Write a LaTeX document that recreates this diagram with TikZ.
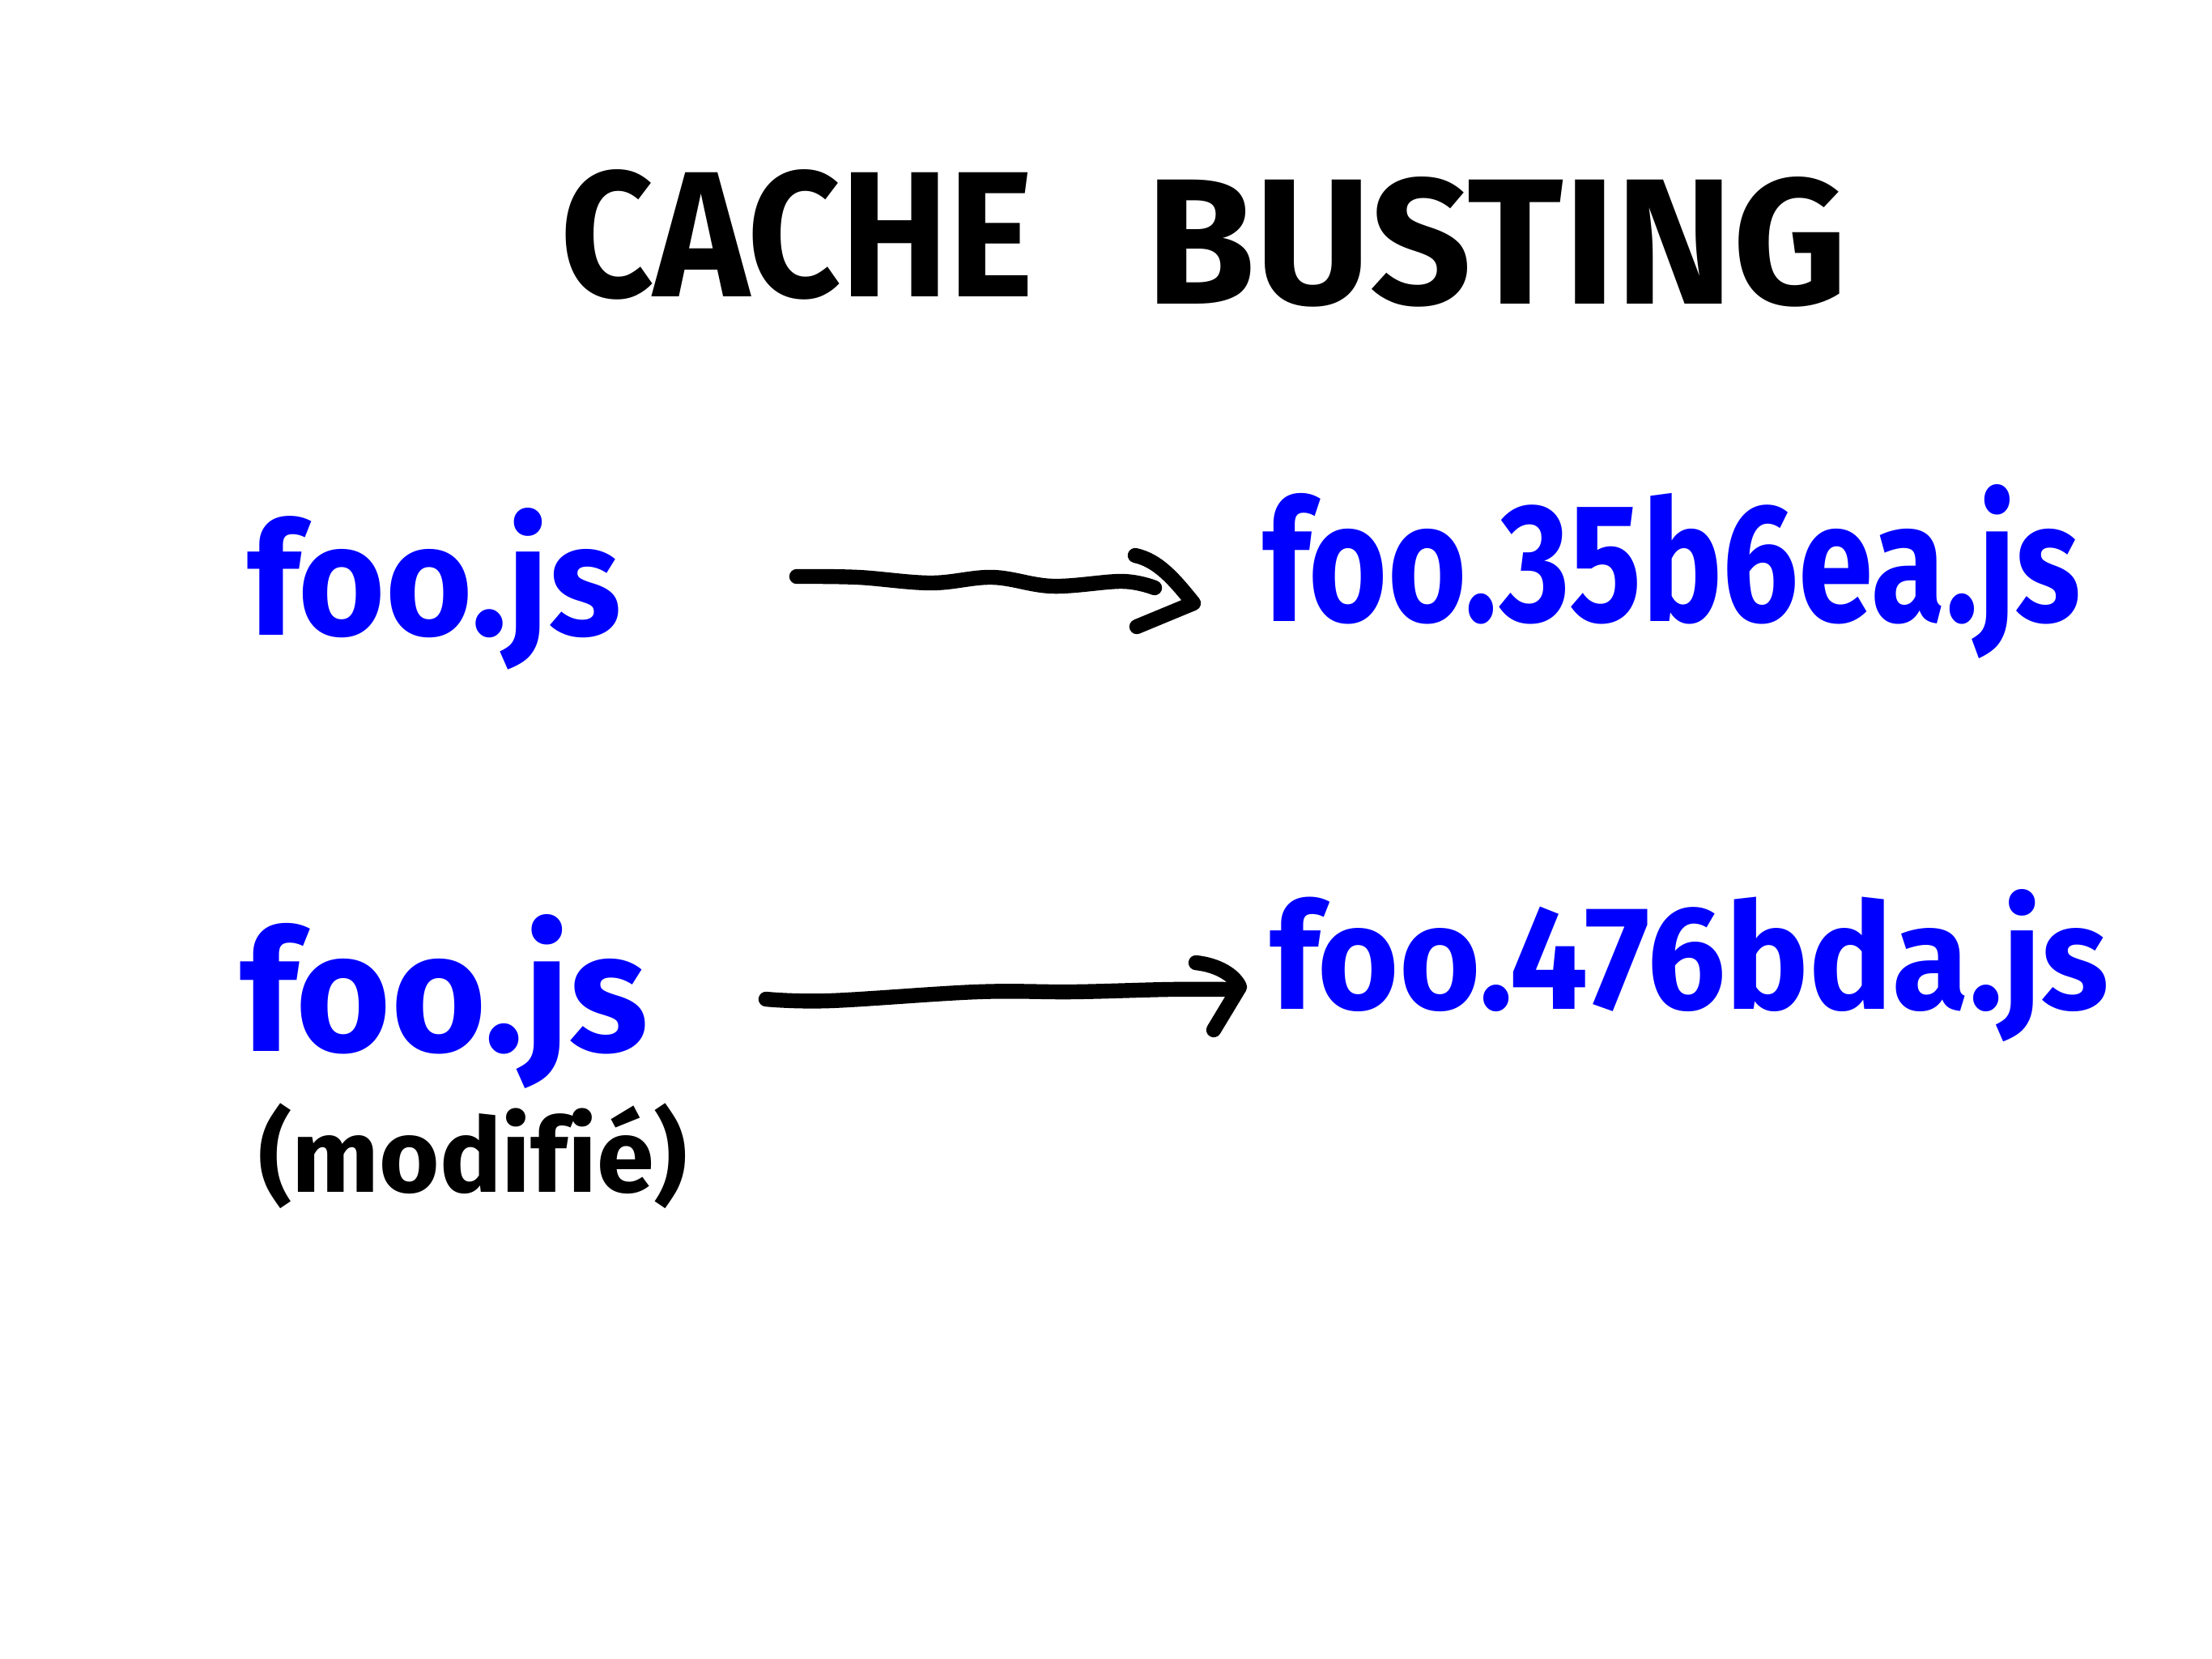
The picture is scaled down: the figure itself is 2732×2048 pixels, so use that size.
\documentclass[tikz,border=0pt]{standalone}
\usepackage{fontspec}
\usepackage{graphicx}
\setmainfont[Ligatures=NoCommon]{Fira Sans}
\definecolor{inkblue}{RGB}{0,0,255}
\tikzset{
  every node/.style={inner sep=0pt, outer sep=0pt},
  title/.style={text=black, font=\bfseries, anchor=base west},
  fname/.style={text=inkblue, font=\bfseries, anchor=base west},
  note/.style={text=black, font=\bfseries, anchor=base west},
  stroke/.style={line width=4.6pt, line cap=round, line join=round, black},
}
\begin{document}
\begin{tikzpicture}[x=0.25pt, y=-0.25pt]
\useasboundingbox (0,0) rectangle (2732,2048);
\fill[white] (0,0) rectangle (2732,2048);

% title
\node[title] (cache) at (692,366) {\resizebox{146.25pt}{39.25pt}{CACHE}};
\node[title] (busting) at (1415,375) {\resizebox{216.75pt}{39.25pt}{BUSTING}};

% row 1
\node[fname] (foo1) at (305,784) {\resizebox{115.5pt}{39.25pt}{foo.js}};
\node[fname] (hash1) at (1559,767) {\resizebox{252.75pt}{42.25pt}{foo.35b6ea.js}};

% row 2
\node[fname] (foo2) at (296,1298) {\resizebox{126.25pt}{42.25pt}{foo.js}};
\node[note] (modif) at (319,1472) {\resizebox{132.5pt}{!}{(modifié)}};
\node[fname] (hash2) at (1568,1246) {\resizebox{259.25pt}{37pt}{foo.476bda.js}};

% arrow 1
\coordinate (a1s) at (984,712);
\coordinate (a1e) at (1426,726);
\coordinate (a1t) at (1474,745);
\draw[stroke] plot[smooth, tension=0.6] coordinates {(a1s) (1060,713) (1150,720) (1226,713) (1300,724) (1386,718) (a1e)};
\draw[stroke] (1402,686) .. controls (1430,692) and (1450,715) .. (a1t) -- (1404,774);

% arrow 2
\coordinate (a2s) at (946,1234);
\coordinate (a2e) at (1519,1222);
\coordinate (a2t) at (1531,1219);
\draw[stroke] plot[smooth, tension=0.6] coordinates {(a2s) (1025,1236) (1207,1225) (1325,1225) (1444,1222) (a2e)};
\draw[stroke] (1477,1189) .. controls (1505,1192) and (1525,1205) .. (a2t) -- (1499,1272);
\end{tikzpicture}
\end{document}
